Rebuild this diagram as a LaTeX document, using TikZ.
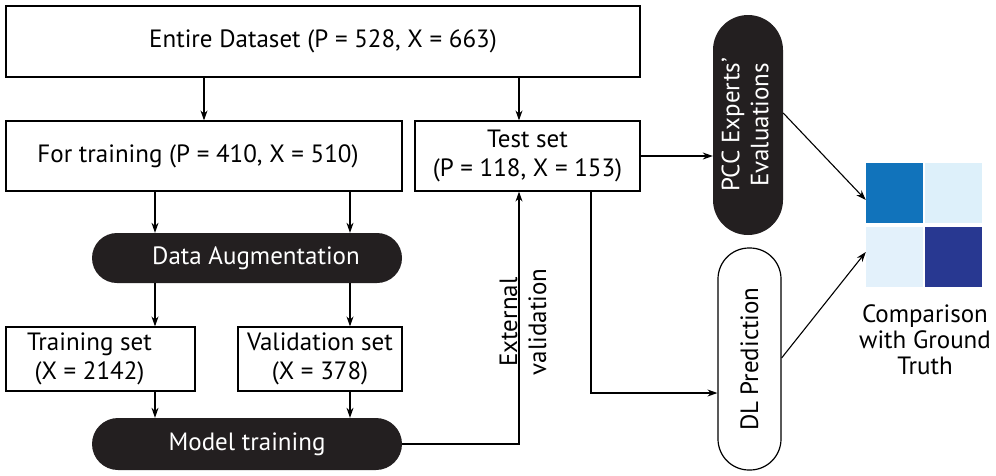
\documentclass[tikz,border=0pt]{standalone}
\usepackage{fontspec}
\setmainfont{PT Sans}
\usetikzlibrary{arrows.meta,positioning}
\definecolor{pillblack}{HTML}{231F20}
\definecolor{sqblue}{HTML}{1173BB}
\definecolor{sqnavy}{HTML}{283891}
\definecolor{sqpaleA}{HTML}{DDF0FA}
\definecolor{sqpaleB}{HTML}{E3F1FB}
\tikzset{
  box/.style={draw, line width=1.2pt, align=center, inner sep=0pt},
  pill/.style={fill=pillblack, text=white, rounded corners=25pt, align=center, inner sep=0pt},
  arr/.style={-{Stealth[length=10pt,width=7pt]}, line width=1.1pt},
  sq/.style={minimum width=57pt, minimum height=60pt, inner sep=0pt}
}
\begin{document}
\begin{tikzpicture}[x=1pt,y=-1pt,font=\fontsize{25}{29}\selectfont]
\useasboundingbox (0,0) rectangle (996,475);
% boxes
\node[box, minimum width=634pt, minimum height=71pt] (entire) at (323,41.5) {Entire Dataset (P = 528, X = 663)};
\node[box, minimum width=396pt, minimum height=70pt] (training) at (204,156) {For training (P = 410, X = 510)\hspace*{12pt}};
\node[box, minimum width=225pt, minimum height=70pt] (test) at (527.5,156) {Test set\\(P = 118, X = 153)};
\node[pill, minimum width=310pt, minimum height=50pt] (aug) at (247,258) {\hspace*{18pt}Data Augmentation};
\node[box, minimum width=189pt, minimum height=64pt] (trainset) at (100.5,359)
  {\begin{tabular}{@{}c@{}}Training set\\(X = 2142)\end{tabular}\hspace*{22pt}};
\node[box, minimum width=164pt, minimum height=64pt] (valset) at (320,359)
  {\begin{tabular}{@{}c@{}}Validation set\\(X = 378)\end{tabular}};
\node[pill, minimum width=310pt, minimum height=52pt, rounded corners=26pt] (model) at (247,444) {Model training};
\node[pill, minimum width=70pt, minimum height=220pt, rounded corners=35pt] (pcc) at (748,125)
  {\rotatebox{90}{\begin{tabular}{@{}c@{}}PCC Experts’\\Evaluations\end{tabular}}};
\node[box, fill=white, minimum width=63pt, minimum height=222pt, rounded corners=31pt] (dl) at (749.5,359)
  {\rotatebox{90}{DL\hspace{6pt}Prediction}};
% ground truth grid
\node[sq, fill=sqblue] (sqA) at (894.5,193) {};
\node[sq, fill=sqpaleA] (sqB) at (953.5,193) {};
\node[sq, fill=sqpaleB] (sqC) at (894.5,257) {};
\node[sq, fill=sqnavy] (sqD) at (953.5,257) {};
\node[align=center, font=\fontsize{25}{26}\selectfont] (compare) at (925,340) {Comparison\\with Ground\\Truth};
\node[rotate=90, align=center] (extval) at (523,322) {External\\validation};
% columns for the arrows
\coordinate (colL) at (155,0);
\coordinate (colR) at (350,0);
\coordinate (colT) at (519,0);
\coordinate (colD) at (591,393);
% connectors
\draw[arr] (entire.south -| training.north) -- (training.north);
\draw[arr] (entire.south -| colT) -- (test.north -| colT);
\draw[arr] (training.south -| colL) -- (aug.north -| colL);
\draw[arr] (training.south -| colR) -- (aug.north -| colR);
\draw[arr] (aug.south -| colL) -- (trainset.north -| colL);
\draw[arr] (aug.south -| colR) -- (valset.north -| colR);
\draw[arr] (trainset.south -| colL) -- (model.north -| colL);
\draw[arr] (valset.south -| colR) -- (model.north -| colR);
\draw[arr] (model.east) -| (test.south -| colT);
\draw[arr] (test.east) -- (test.east -| pcc.west);
\draw[arr] (test.south -| colD) |- (dl.west |- colD);
\draw[arr] ([yshift=12pt]pcc.east) -- ([yshift=-7pt]sqA.west);
\draw[arr] ([yshift=1pt]dl.east) -- ([yshift=5pt]sqC.west);
\end{tikzpicture}
\end{document}
